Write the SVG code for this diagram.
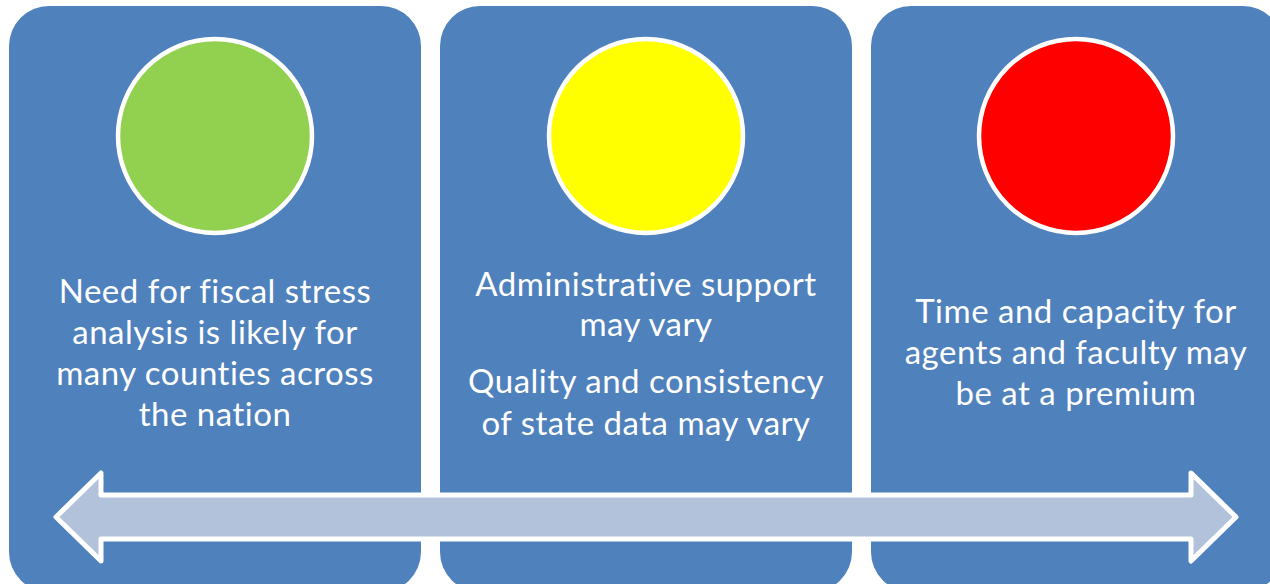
<svg xmlns="http://www.w3.org/2000/svg" width="1270" height="584" viewBox="0 0 1270 584">
<style>
.box{fill:#4F81BD;}
.dot{stroke:#FFFFFF;stroke-width:4.5;}
.t{font-family:Lato,"Open Sans","Liberation Sans",sans-serif;font-size:33px;letter-spacing:0.5px;fill:#FFFFFF;text-anchor:middle;}
.arrow{fill:#B2C2DB;stroke:#FFFFFF;stroke-width:5;stroke-linejoin:round;}
</style>
<rect width="1270" height="584" fill="#FFFFFF"/>
<g id="node1">
<rect class="box" x="9" y="6" width="412" height="586" rx="40" ry="40"/>
<circle class="dot" cx="215" cy="136" r="97" fill="#92D050"/>
<text class="t" x="215" y="303">Need for fiscal stress</text>
<text class="t" x="215" y="344">analysis is likely for</text>
<text class="t" x="215" y="385">many counties across</text>
<text class="t" x="215" y="426">the nation</text>
</g>
<g id="node2">
<rect class="box" x="440" y="6" width="412" height="586" rx="40" ry="40"/>
<circle class="dot" cx="646" cy="136" r="97" fill="#FFFF00"/>
<text class="t" x="646" y="296">Administrative support</text>
<text class="t" x="646" y="336">may vary</text>
<text class="t" x="646" y="393">Quality and consistency</text>
<text class="t" x="646" y="435">of state data may vary</text>
</g>
<g id="node3">
<rect class="box" x="871" y="6" width="412" height="586" rx="40" ry="40"/>
<circle class="dot" cx="1076" cy="136" r="97" fill="#FF0000"/>
<text class="t" x="1076" y="323">Time and capacity for</text>
<text class="t" x="1076" y="364">agents and faculty may</text>
<text class="t" x="1076" y="405">be at a premium</text>
</g>
<g id="connectors">
<polygon class="arrow" points="56,517 101,473 101,495 1191,495 1191,473 1236,517 1191,561 1191,539 101,539 101,561"/>
</g>
</svg>
